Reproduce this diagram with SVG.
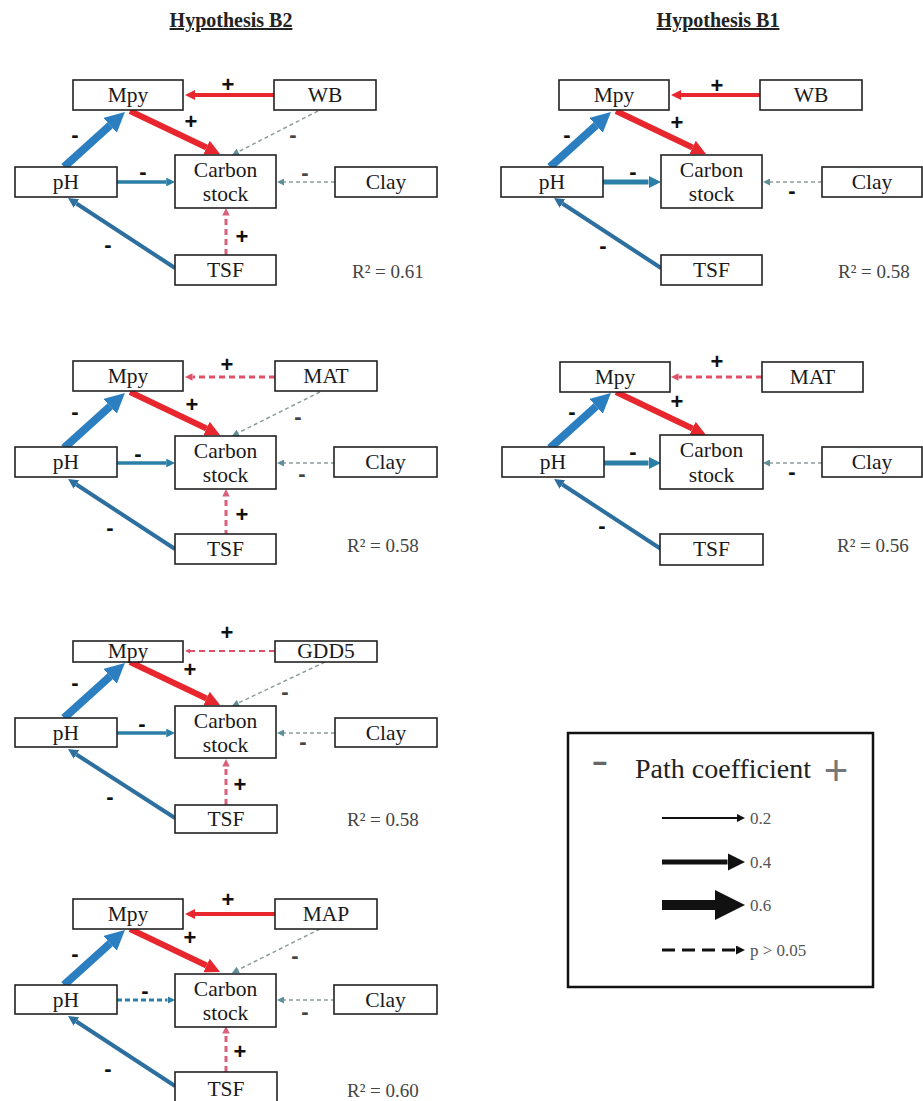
<svg xmlns="http://www.w3.org/2000/svg" width="923" height="1101" viewBox="0 0 923 1101">
<style>
.box{fill:#fff;stroke:#222;stroke-width:1.6}
.nt{font-family:"Liberation Serif","Times New Roman",serif;font-size:21.5px;fill:#1a1a1a;text-anchor:middle}
.sg{font-family:"Liberation Sans",Arial,sans-serif;font-weight:bold;font-size:22px;text-anchor:middle;fill:#111}
.sgg{fill:#444}
.r2{font-family:"Liberation Serif","Times New Roman",serif;font-size:19px;fill:#444}
.ttl{font-family:"Liberation Serif","Times New Roman",serif;font-size:20px;font-weight:bold;fill:#222;text-anchor:middle;text-decoration:underline}
.c{fill:none;stroke-linecap:butt}
.red{stroke:#e8262d;marker-end:url(#mRed)}
.blue{stroke:#2b7fc0;stroke-width:8;marker-end:url(#mBlue)}
.teal{stroke:#2b7fa6;marker-end:url(#mTeal)}
.dblue{stroke:#2d6f9f;stroke-width:4;marker-end:url(#mDblue)}
.gray{stroke:#8f9c9c;stroke-width:1.5;stroke-dasharray:4 3;marker-end:url(#mGray)}
.pink{stroke:#d8607a;stroke-width:3;stroke-dasharray:6 4;marker-end:url(#mPink)}
.pink2{stroke:#e05068;stroke-dasharray:6 4;marker-end:url(#mPink2)}
.lg{font-family:"Liberation Serif","Times New Roman",serif;font-size:17px;fill:#555}
</style>
<defs>
<marker id="mRed" viewBox="0 0 10 10" refX="0" refY="5" markerWidth="2.5" markerHeight="2.5" orient="auto" markerUnits="strokeWidth"><path d="M0,0 L10,5 L0,10 z" fill="#e8262d"/></marker>
<marker id="mBlue" viewBox="0 0 10 10" refX="0" refY="5" markerWidth="2.5" markerHeight="2.5" orient="auto" markerUnits="strokeWidth"><path d="M0,0 L10,5 L0,10 z" fill="#2b7fc0"/></marker>
<marker id="mTeal" viewBox="0 0 10 10" refX="0" refY="5" markerWidth="2.5" markerHeight="2.5" orient="auto" markerUnits="strokeWidth"><path d="M0,0 L10,5 L0,10 z" fill="#2b7fa6"/></marker>
<marker id="mDblue" viewBox="0 0 10 10" refX="0" refY="5" markerWidth="2.5" markerHeight="2.5" orient="auto" markerUnits="strokeWidth"><path d="M0,0 L10,5 L0,10 z" fill="#2d6f9f"/></marker>
<marker id="mPink" viewBox="0 0 10 10" refX="0" refY="5" markerWidth="2.5" markerHeight="2.5" orient="auto" markerUnits="strokeWidth"><path d="M0,0 L10,5 L0,10 z" fill="#d8607a"/></marker>
<marker id="mPink2" viewBox="0 0 10 10" refX="0" refY="5" markerWidth="2.5" markerHeight="2.5" orient="auto" markerUnits="strokeWidth"><path d="M0,0 L10,5 L0,10 z" fill="#e05068"/></marker>
<marker id="mGray" viewBox="0 0 10 10" refX="0" refY="5" markerWidth="7" markerHeight="7" orient="auto" markerUnits="userSpaceOnUse"><path d="M0,0 L10,5 L0,10 z" fill="#5f8f9a"/></marker>
<marker id="mBlk4" viewBox="0 0 10 10" refX="0" refY="5" markerWidth="4" markerHeight="4" orient="auto" markerUnits="strokeWidth"><path d="M0,0 L10,5 L0,10 z" fill="#111"/></marker>
<marker id="mBlk35" viewBox="0 0 10 10" refX="0" refY="5" markerWidth="3.5" markerHeight="3.5" orient="auto" markerUnits="strokeWidth"><path d="M0,0 L10,5 L0,10 z" fill="#111"/></marker>
<marker id="mBlk3" viewBox="0 0 10 10" refX="0" refY="5" markerWidth="3" markerHeight="3" orient="auto" markerUnits="strokeWidth"><path d="M0,0 L10,5 L0,10 z" fill="#111"/></marker>
</defs>
<rect width="923" height="1101" fill="#fff"/>

<text class="ttl" x="231" y="27">Hypothesis B2</text>
<text class="ttl" x="718" y="27">Hypothesis B1</text>

<!-- Panel 1: B2 with WB -->
<g id="panel-b2-wb">
  <g id="p1-connectors">
    <path class="c red" stroke-width="4" d="M274,95 L195,95"/>
    <path class="c red" stroke-width="6" d="M130,111 L206.5,147.5"/>
    <path class="c blue" d="M64,167 L110.1,125.4"/>
    <path class="c teal" stroke-width="3.5" d="M117,182 L166.25,182"/>
    <path class="c dblue" d="M175,268 L76.4,203.5"/>
    <path class="c gray" d="M318,111 L238.2,151.8"/>
    <path class="c gray" d="M335,182 L284,182"/>
    <path class="c pink" d="M226,255 L226,215.5"/>
    <text class="sg" x="228" y="92">+</text>
    <text class="sg" x="191" y="129">+</text>
    <text class="sg" x="75" y="142">-</text>
    <text class="sg" x="143" y="179">-</text>
    <text class="sg" x="108" y="252">-</text>
    <text class="sg sgg" x="293" y="142">-</text>
    <text class="sg sgg" x="305" y="180">-</text>
    <text class="sg" x="242" y="244">+</text>
  </g>
  <g id="p1-mpy"><rect class="box" x="73" y="80" width="110" height="30"/><text class="nt" x="128" y="102">Mpy</text></g>
  <g id="p1-wb"><rect class="box" x="274" y="80" width="102" height="30"/><text class="nt" x="325" y="102">WB</text></g>
  <g id="p1-ph"><rect class="box" x="15" y="167" width="102" height="30"/><text class="nt" x="66" y="189">pH</text></g>
  <g id="p1-carbon"><rect class="box" x="175" y="155" width="101" height="53"/><text class="nt" x="225.5" y="177">Carbon</text><text class="nt" x="225.5" y="201">stock</text></g>
  <g id="p1-clay"><rect class="box" x="335" y="167" width="102" height="30"/><text class="nt" x="386" y="189">Clay</text></g>
  <g id="p1-tsf"><rect class="box" x="175" y="255" width="101" height="30"/><text class="nt" x="225.5" y="277">TSF</text></g>
  <text class="r2" x="352" y="278">R² = 0.61</text>
</g>

<!-- Panel 2: B1 with WB -->
<g id="panel-b1-wb" transform="translate(486,0)">
  <g id="p2-connectors">
    <path class="c red" stroke-width="4" d="M274,95 L195,95"/>
    <path class="c red" stroke-width="6" d="M130,111 L206.5,147.5"/>
    <path class="c blue" d="M64,167 L110.1,125.4"/>
    <path class="c teal" stroke-width="5" d="M117,182 L162.5,182"/>
    <path class="c dblue" d="M175,268 L76.4,203.5"/>
    <path class="c gray" d="M336,182 L284,182"/>
    <text class="sg" x="231" y="93">+</text>
    <text class="sg" x="191" y="130">+</text>
    <text class="sg" x="81" y="142">-</text>
    <text class="sg" x="147" y="179">-</text>
    <text class="sg" x="117" y="253">-</text>
    <text class="sg" x="306" y="198">-</text>
  </g>
  <g id="p2-mpy"><rect class="box" x="73" y="80" width="110" height="30"/><text class="nt" x="128" y="102">Mpy</text></g>
  <g id="p2-wb"><rect class="box" x="274" y="80" width="102" height="30"/><text class="nt" x="325" y="102">WB</text></g>
  <g id="p2-ph"><rect class="box" x="15" y="167" width="102" height="30"/><text class="nt" x="66" y="189">pH</text></g>
  <g id="p2-carbon"><rect class="box" x="175" y="155" width="101" height="53"/><text class="nt" x="225.5" y="177">Carbon</text><text class="nt" x="225.5" y="201">stock</text></g>
  <g id="p2-clay"><rect class="box" x="336" y="167" width="100" height="30"/><text class="nt" x="386" y="189">Clay</text></g>
  <g id="p2-tsf"><rect class="box" x="175" y="255" width="101" height="30"/><text class="nt" x="225.5" y="277">TSF</text></g>
  <text class="r2" x="352" y="278">R² = 0.58</text>
</g>

<!-- Panel 3: B2 with MAT -->
<g id="panel-b2-mat" transform="translate(0,281)">
  <g id="p3-connectors">
    <path class="c pink2" stroke-width="3" d="M275,96 L192.5,96"/>
    <path class="c red" stroke-width="6" d="M130,111 L206.5,147.5"/>
    <path class="c blue" d="M64,167 L110.1,125.4"/>
    <path class="c teal" stroke-width="3.5" d="M117,182 L166.25,182"/>
    <path class="c dblue" d="M175,268 L76.4,203.5"/>
    <path class="c gray" d="M320,111 L238.2,151.8"/>
    <path class="c gray" d="M335,182 L284,182"/>
    <path class="c pink" d="M226,255 L226,215.5"/>
    <text class="sg" x="227" y="91">+</text>
    <text class="sg" x="192" y="131">+</text>
    <text class="sg" x="75" y="138">-</text>
    <text class="sg" x="138" y="180">-</text>
    <text class="sg" x="110" y="254">-</text>
    <text class="sg sgg" x="298" y="143">-</text>
    <text class="sg sgg" x="302" y="200">-</text>
    <text class="sg" x="242" y="241">+</text>
  </g>
  <g id="p3-mpy"><rect class="box" x="73" y="80" width="110" height="30"/><text class="nt" x="128" y="102">Mpy</text></g>
  <g id="p3-mat"><rect class="box" x="275" y="80" width="102" height="30"/><text class="nt" x="326" y="102">MAT</text></g>
  <g id="p3-ph"><rect class="box" x="15" y="166" width="102" height="30"/><text class="nt" x="66" y="188">pH</text></g>
  <g id="p3-carbon"><rect class="box" x="175" y="155" width="101" height="53"/><text class="nt" x="225.5" y="177">Carbon</text><text class="nt" x="225.5" y="201">stock</text></g>
  <g id="p3-clay"><rect class="box" x="334" y="166" width="103" height="30"/><text class="nt" x="385.5" y="188">Clay</text></g>
  <g id="p3-tsf"><rect class="box" x="175" y="253" width="101" height="30"/><text class="nt" x="225.5" y="275">TSF</text></g>
  <text class="r2" x="347" y="271">R² = 0.58</text>
</g>

<!-- Panel 4: B1 with MAT -->
<g id="panel-b1-mat" transform="translate(486,281)">
  <g id="p4-connectors">
    <path class="c pink2" stroke-width="3" d="M276,96 L192.5,96"/>
    <path class="c red" stroke-width="6" d="M130,111 L206.5,147.5"/>
    <path class="c blue" d="M64,167 L110.1,125.4"/>
    <path class="c teal" stroke-width="5" d="M117,182 L162.5,182"/>
    <path class="c dblue" d="M175,268 L76.4,203.5"/>
    <path class="c gray" d="M336,182 L284,182"/>
    <text class="sg" x="231" y="88">+</text>
    <text class="sg" x="191" y="128">+</text>
    <text class="sg" x="86" y="138">-</text>
    <text class="sg" x="147" y="178">-</text>
    <text class="sg" x="116" y="252">-</text>
    <text class="sg" x="306" y="198">-</text>
  </g>
  <g id="p4-mpy"><rect class="box" x="74" y="81" width="110" height="30"/><text class="nt" x="129" y="103">Mpy</text></g>
  <g id="p4-mat"><rect class="box" x="276" y="81" width="101" height="30"/><text class="nt" x="326.5" y="103">MAT</text></g>
  <g id="p4-ph"><rect class="box" x="16" y="166" width="102" height="30"/><text class="nt" x="67" y="188">pH</text></g>
  <g id="p4-carbon"><rect class="box" x="174" y="154" width="103" height="54"/><text class="nt" x="225.5" y="176">Carbon</text><text class="nt" x="225.5" y="201">stock</text></g>
  <g id="p4-clay"><rect class="box" x="336" y="166" width="100" height="30"/><text class="nt" x="386" y="188">Clay</text></g>
  <g id="p4-tsf"><rect class="box" x="174" y="253" width="103" height="31"/><text class="nt" x="225.5" y="275">TSF</text></g>
  <text class="r2" x="351" y="271">R² = 0.56</text>
</g>

<!-- Panel 5: B2 with GDD5 -->
<g id="panel-b2-gdd5" transform="translate(0,551)">
  <g id="p5-connectors">
    <path class="c pink2" stroke-width="2" d="M275,100 L190,100"/>
    <path class="c red" stroke-width="6" d="M130,111 L206.5,147.5"/>
    <path class="c blue" d="M64,167 L110.1,125.4"/>
    <path class="c teal" stroke-width="3.5" d="M117,182 L166.25,182"/>
    <path class="c dblue" d="M175,267 L76.4,203.5"/>
    <path class="c gray" stroke-width="2.5" d="M325,111 L238.3,152"/>
    <path class="c gray" d="M335,182 L284,182"/>
    <path class="c pink" d="M226,254 L226,215.5"/>
    <text class="sg" x="227" y="89">+</text>
    <text class="sg" x="190" y="126">+</text>
    <text class="sg" x="75" y="139">-</text>
    <text class="sg" x="142" y="180">-</text>
    <text class="sg" x="110" y="253">-</text>
    <text class="sg sgg" x="285" y="148">-</text>
    <text class="sg sgg" x="303" y="198">-</text>
    <text class="sg" x="240" y="241">+</text>
  </g>
  <g id="p5-mpy"><rect class="box" x="73" y="90" width="110" height="21"/><text class="nt" x="128" y="107">Mpy</text></g>
  <g id="p5-gdd5"><rect class="box" x="275" y="90" width="102" height="21"/><text class="nt" x="326" y="107">GDD5</text></g>
  <g id="p5-ph"><rect class="box" x="15" y="167" width="102" height="29"/><text class="nt" x="66" y="189">pH</text></g>
  <g id="p5-carbon"><rect class="box" x="175" y="155" width="101" height="52"/><text class="nt" x="225.5" y="177">Carbon</text><text class="nt" x="225.5" y="201">stock</text></g>
  <g id="p5-clay"><rect class="box" x="335" y="167" width="102" height="29"/><text class="nt" x="386" y="189">Clay</text></g>
  <g id="p5-tsf"><rect class="box" x="175" y="254" width="102" height="28"/><text class="nt" x="226" y="275">TSF</text></g>
  <text class="r2" x="347" y="275">R² = 0.58</text>
</g>

<!-- Panel 6: B2 with MAP -->
<g id="panel-b2-map" transform="translate(0,818)">
  <g id="p6-connectors">
    <path class="c red" stroke-width="4" d="M275,96 L195,96"/>
    <path class="c red" stroke-width="6" d="M130,111 L206.5,147.5"/>
    <path class="c blue" d="M64,167 L110.1,125.4"/>
    <path class="c teal" stroke-width="3" stroke-dasharray="5 3" d="M117,182 L167.5,182"/>
    <path class="c dblue" d="M175,268 L76.4,203.5"/>
    <path class="c gray" d="M320,111 L238.2,151.8"/>
    <path class="c gray" d="M335,182 L284,182"/>
    <path class="c pink" d="M226,254 L226,215.5"/>
    <text class="sg" x="228" y="89">+</text>
    <text class="sg" x="190" y="127">+</text>
    <text class="sg" x="75" y="143">-</text>
    <text class="sg" x="145" y="180">-</text>
    <text class="sg" x="108" y="258">-</text>
    <text class="sg sgg" x="295" y="145">-</text>
    <text class="sg sgg" x="305" y="201">-</text>
    <text class="sg" x="240" y="241">+</text>
  </g>
  <g id="p6-mpy"><rect class="box" x="73" y="81" width="110" height="30"/><text class="nt" x="128" y="103">Mpy</text></g>
  <g id="p6-map"><rect class="box" x="275" y="81" width="102" height="30"/><text class="nt" x="326" y="103">MAP</text></g>
  <g id="p6-ph"><rect class="box" x="15" y="167" width="102" height="29"/><text class="nt" x="66" y="189">pH</text></g>
  <g id="p6-carbon"><rect class="box" x="175" y="156" width="101" height="53"/><text class="nt" x="225.5" y="178">Carbon</text><text class="nt" x="225.5" y="202">stock</text></g>
  <g id="p6-clay"><rect class="box" x="334" y="167" width="103" height="29"/><text class="nt" x="385.5" y="189">Clay</text></g>
  <g id="p6-tsf"><rect class="box" x="175" y="254" width="102" height="30"/><text class="nt" x="226" y="278">TSF</text></g>
  <text class="r2" x="347" y="279">R² = 0.60</text>
</g>

<!-- Legend -->
<g id="legend">
  <rect x="568" y="733" width="305" height="254" fill="#fff" stroke="#111" stroke-width="2.5"/>
  <text transform="translate(600,771) scale(1.8,1)" x="0" y="0" font-family="Liberation Sans, Arial, sans-serif" font-weight="bold" font-size="28" fill="#666" text-anchor="middle">-</text>
  <text x="723" y="778" font-family="Liberation Serif, Times New Roman, serif" font-size="28" fill="#222" text-anchor="middle">Path coefficient</text>
  <text x="836" y="785" font-family="Liberation Sans, Arial, sans-serif" font-size="42" fill="#777" text-anchor="middle">+</text>
  <path d="M662,818 L737,818" fill="none" stroke="#111" stroke-width="2" marker-end="url(#mBlk4)"/>
  <text class="lg" x="750" y="824">0.2</text>
  <path d="M662,862 L727.5,862" fill="none" stroke="#111" stroke-width="5" marker-end="url(#mBlk35)"/>
  <text class="lg" x="750" y="868">0.4</text>
  <path d="M662,905 L715,905" fill="none" stroke="#111" stroke-width="10" marker-end="url(#mBlk3)"/>
  <text class="lg" x="750" y="911">0.6</text>
  <path d="M662,950 L736,950" fill="none" stroke="#111" stroke-width="3" stroke-dasharray="13 7" marker-end="url(#mBlk3)"/>
  <text class="lg" x="750" y="956">p &gt; 0.05</text>
</g>
</svg>
